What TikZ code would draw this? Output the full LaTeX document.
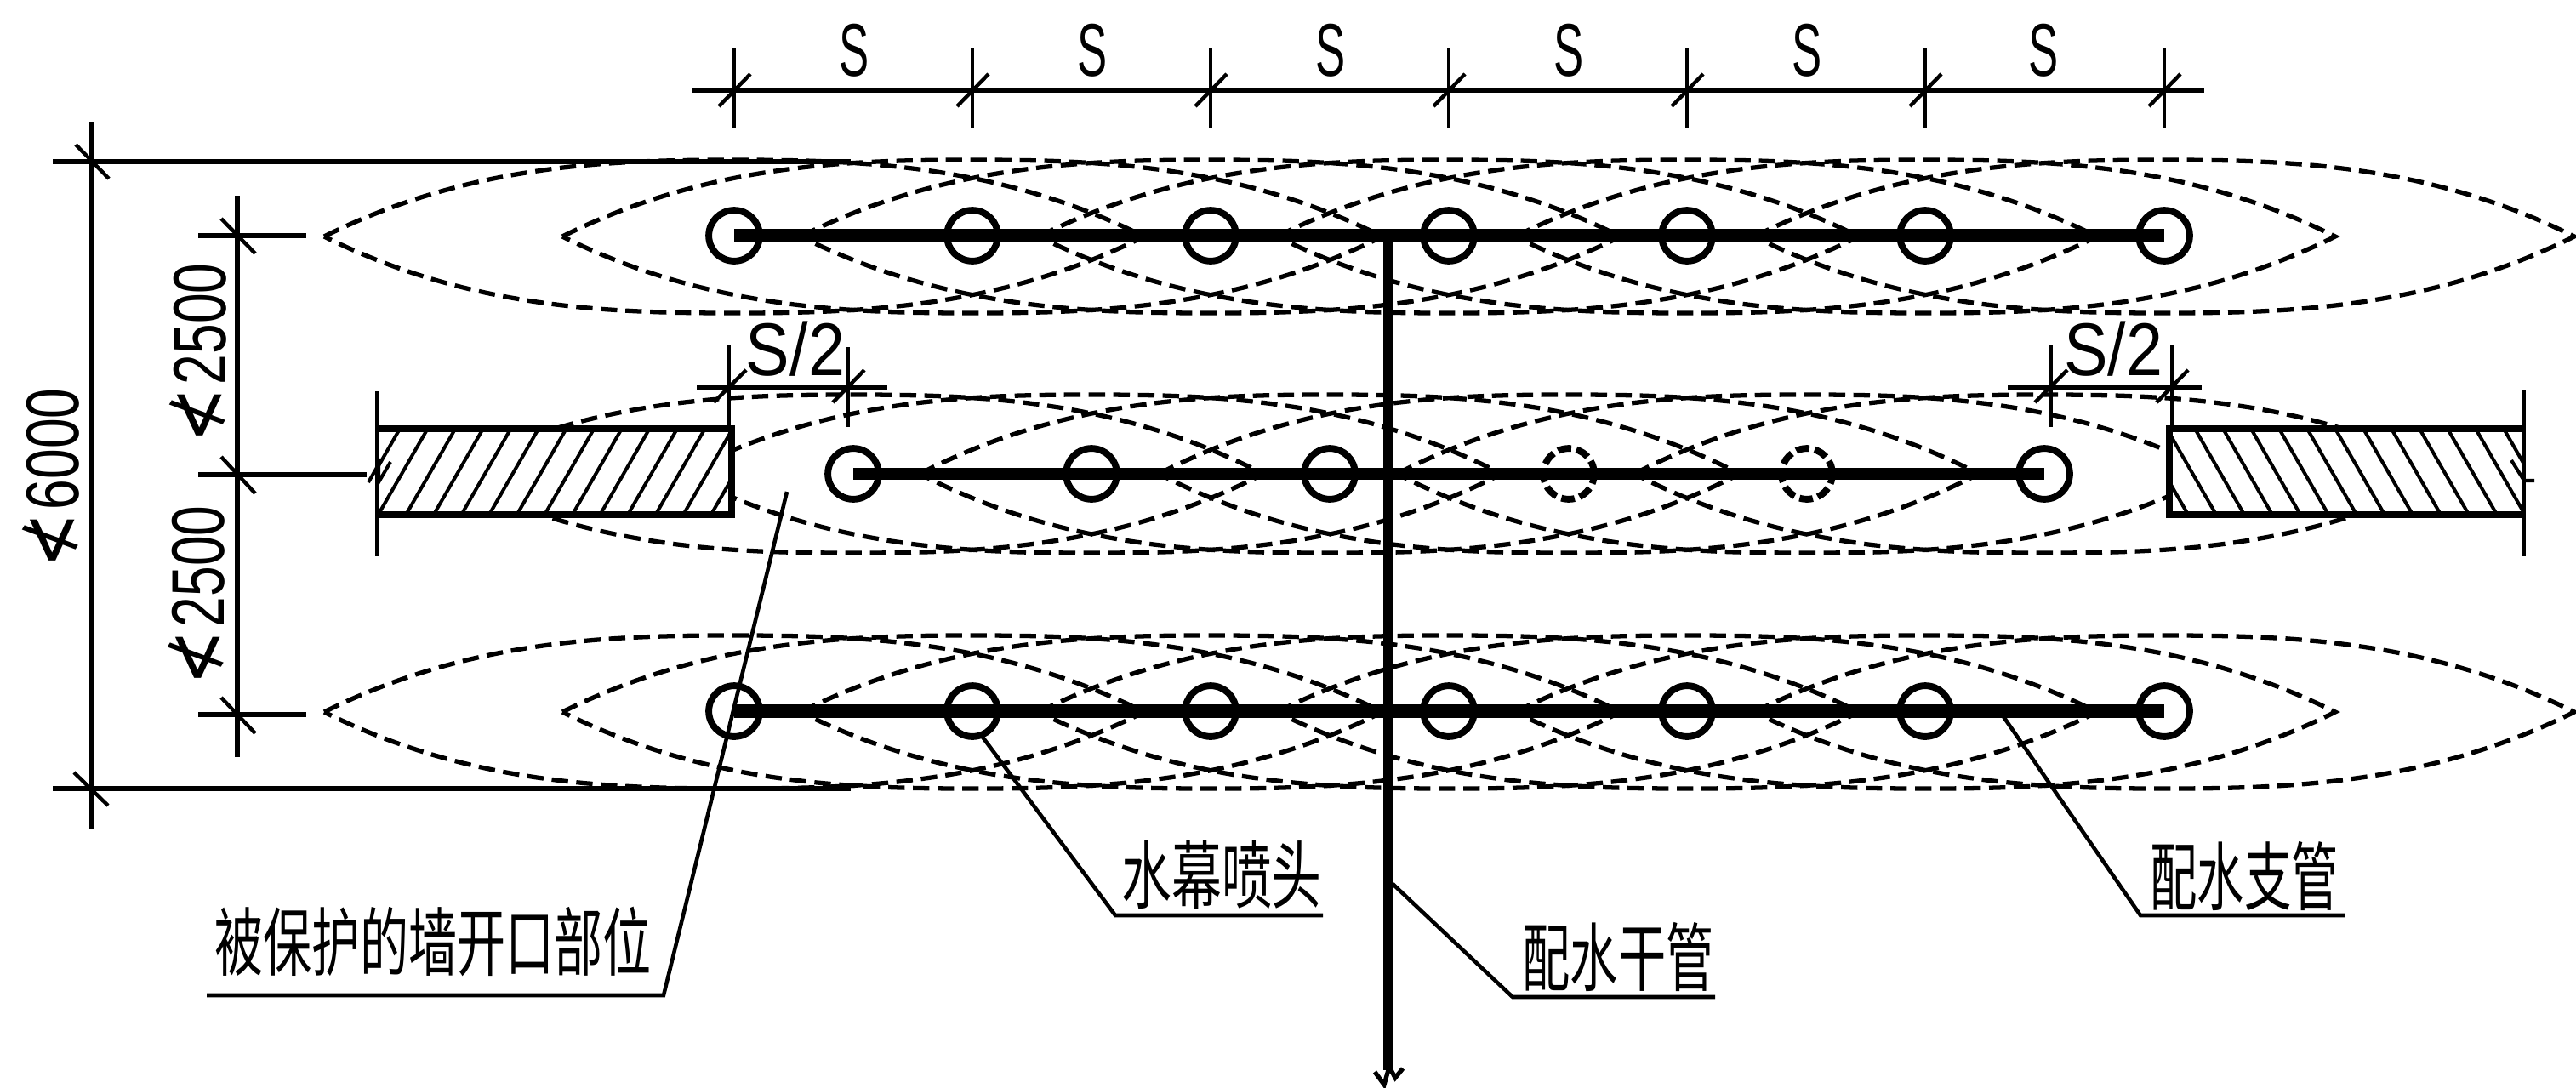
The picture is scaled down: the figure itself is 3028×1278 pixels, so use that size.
\documentclass[tikz,border=0pt]{standalone}
\usepackage{fontspec}
\setmainfont{Liberation Sans}
\newfontfamily\cjkfont{Noto Sans CJK SC}
\newfontfamily\symfont{DejaVu Sans}
\newcommand{\NotLess}{\scalebox{1.2}[1.12]{\symfont ≮}\hspace{3pt}}
\newcommand{\sprayLens}[3]{%
  \begin{scope}[shift={(#1,#2)}]
    \draw[spray] (-482,0) .. controls (-312,{-#3*0.94}) and (-150,-#3) .. (0,-#3)
      .. controls (150,-#3) and (312,{-#3*0.94}) .. (482,0)
      .. controls (312,{#3*0.94}) and (150,#3) .. (0,#3)
      .. controls (-150,#3) and (-312,{#3*0.94}) .. cycle;
  \end{scope}}
\tikzset{
  spray/.style={line width=3pt,dash pattern=on 11pt off 5.5pt},
  dimline/.style={line width=2.9pt},
  thinline/.style={line width=2.3pt},
  slash/.style={line width=2.5pt},
  pipe/.style={line width=8.6pt},
  wallline/.style={line width=4.4pt},
  hatchline/.style={line width=2.3pt},
  leaderline/.style={line width=2.6pt},
  headsolid/.style={circle,draw,line width=4.5pt,minimum size=34pt,inner sep=0pt,outer sep=0pt},
  headdash/.style={headsolid,dash pattern=on 9pt off 3.5pt},
  lab/.style={inner sep=0pt,outer sep=0pt,font=\fontsize{50}{50}\selectfont},
  cjklab/.style={inner sep=0pt,outer sep=0pt,font=\fontsize{50}{50}\selectfont\cjkfont},
}
\begin{document}
\begin{tikzpicture}[x=0.02cm,y=-0.02cm]
\useasboundingbox (0,0) rectangle (3028,1278);
% spray lenses
\foreach \X in {863,1143,1423,1703,1983,2263,2544} {
  \sprayLens{\X}{278}{90}
  \sprayLens{\X}{837}{90}
}
\foreach \X in {1003,1283,1563,1844,2124,2403} {
  \sprayLens{\X}{557}{93}
}
% walls
\fill[white] (443,504) rectangle (860,605);
\fill[white] (2550,504) rectangle (2967,605);
\begin{scope}
  \clip (443,504) rectangle (860,605);
  \foreach \X in {-3,...,14} {
    \draw[hatchline] ({470+32.6*\X},504) -- ({470+32.6*\X-58},605);
  }
\end{scope}
\begin{scope}
  \clip (2550,504) rectangle (2967,605);
  \foreach \X in {-3,...,14} {
    \draw[hatchline] ({2580+33*\X},504) -- ({2580+33*\X+58},605);
  }
\end{scope}
\draw[wallline] (443,504) -- (860,504) -- (860,605) -- (443,605);
\draw[wallline] (2967,504) -- (2550,504) -- (2550,605) -- (2967,605);
\draw[thinline] (443,460) -- (443,654);
\draw[thinline] (2967,458) -- (2967,654);
\draw[thinline] (433,567) -- (445,546) -- (445,567) -- (459,543);
\draw[thinline] (2952,541) -- (2967,565) -- (2979,565);
% sprinklers
\foreach \N/\X in {1/863,2/1143,3/1423,4/1703,5/1983,6/2263,7/2544} {
  \node[headsolid] (t\N) at (\X,277) {};
  \node[headsolid] (b\N) at (\X,836) {};
}
\foreach \N/\X in {1/1003,2/1283,3/1563} { \node[headsolid] (m\N) at (\X,557) {}; }
\foreach \N/\X in {4/1844,5/2124} { \node[headdash] (m\N) at (\X,557) {}; }
\node[headsolid] (m6) at (2403,557) {};
% pipes
\draw[pipe] (t1.center) -- (t7.center);
\draw[pipe,line width=7.6pt] (m1.center) -- (m6.center);
\draw[pipe] (b1.center) -- (b7.center);
\coordinate (mainTop) at (1632,271);
\coordinate (mainEnd) at (1632,1258);
\draw[line width=7pt] (mainTop) -- (mainEnd);
\draw[line width=3pt] (1616,1260) -- (1627,1275) -- (1633,1254) -- (1640,1267) -- (1649,1256);
% top dimension
\draw[dimline] (814,106) -- (2591,106);
\foreach \N/\X in {1/863,2/1143,3/1423,4/1703,5/1983,6/2263,7/2544} {
  \coordinate (dt\N) at (\X,106);
  \draw[thinline] (\X,56) -- (\X,150);
  \draw[slash] (\X-18,125) -- (\X+19,87);
}
\foreach \N/\X in {1/1004,2/1284,3/1564,4/1844,5/2124,6/2402} {
  \node[lab,anchor=base] (s\N) at (\X,89) {\scalebox{.6}[1]{S}};
}
% left dimensions
\coordinate (lineA) at (1000,190);
\coordinate (lineB) at (1000,927);
\draw[dimline] (lineA) -- (62,190);
\draw[dimline] (lineB) -- (62,927);
\draw[dimline] (108,143) -- (108,975);
\draw[slash] (89,170) -- (128,210);
\draw[slash] (87,908) -- (127,947);
\draw[dimline] (279,230) -- (279,890);
\draw[dimline] (233,277) -- (360,277);
\draw[dimline] (233,558) -- (431,558);
\draw[dimline] (233,840) -- (360,840);
\draw[slash] (260,257) -- (300,298);
\draw[slash] (260,537) -- (300,580);
\draw[slash] (260,820) -- (300,862);
\node[lab,anchor=base,rotate=90] (dimsix) at (92,562) {\scalebox{.73}[1]{\NotLess 6000}};
\node[lab,anchor=base,rotate=90] (dimup) at (265,415) {\scalebox{.73}[1]{\NotLess 2500}};
\node[lab,anchor=base,rotate=90] (dimdown) at (263,700) {\scalebox{.73}[1]{\NotLess 2500}};
% S/2 dimensions
\draw[dimline] (819,455) -- (1043,455);
\draw[thinline] (857,406) -- (857,504);
\draw[thinline] (997,408) -- (997,502);
\draw[slash] (839,473) -- (877,435);
\draw[slash] (979,473) -- (1016,435);
\node[lab,anchor=base] (halfL) at (935,441) {\scalebox{.88}[1]{S/2}};
\draw[dimline] (2360,455) -- (2588,455);
\draw[thinline] (2411,406) -- (2411,502);
\draw[thinline] (2553,406) -- (2553,504);
\draw[slash] (2392,473) -- (2430,435);
\draw[slash] (2535,473) -- (2572,435);
\node[lab,anchor=base] (halfR) at (2484,441) {\scalebox{.88}[1]{S/2}};
% leaders and labels
\node[cjklab] (lblWall) at (509,1107) {\scalebox{.65}[1]{被保护的墙开口部位}};
\node[cjklab] (lblHead) at (1436,1028) {\scalebox{.67}[1]{水幕喷头}};
\node[cjklab] (lblBranch) at (2638,1030) {\scalebox{.63}[1]{配水支管}};
\node[cjklab] (lblMain) at (1902,1125) {\scalebox{.64}[1]{配水干管}};
\coordinate (pWall) at (925,578);
\coordinate (pHead) at (b2.-70);
\coordinate (pBranch) at (2354,841);
\coordinate (pMain) at (1637,1039);
\draw[leaderline] (pWall) -- (780,1170) -- (243,1170);
\draw[leaderline] (pHead) -- (1311,1076) -- (1555,1076);
\draw[leaderline] (pBranch) -- (2516,1076) -- (2756,1076);
\draw[leaderline] (pMain) -- (1778,1172) -- (2016,1172);
\end{tikzpicture}
\end{document}
